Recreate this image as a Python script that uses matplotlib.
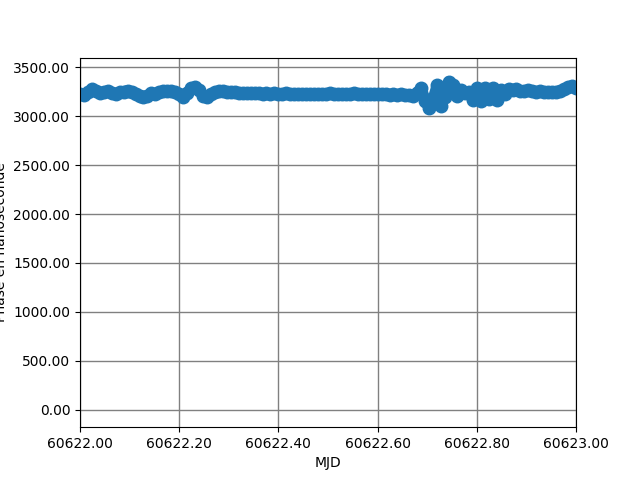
import numpy as np
import matplotlib
matplotlib.use("Agg")
import matplotlib.pyplot as plt
from matplotlib.ticker import FormatStrFormatter

# MJD sampling (one point every 0.008 day)
mjd = 60622.0 + 0.008 * np.arange(126)

# phase values (ns)
phase = [
    3225, 3215, 3245, 3275, 3262, 3240, 3250, 3258, 3240, 3232,
    3245, 3252, 3262, 3248, 3228, 3210, 3198, 3212, 3238, 3232,
    3250, 3258, 3262, 3255, 3250, 3232, 3195, 3235, 3290, 3298,
    3272, 3210, 3198, 3225, 3245, 3255, 3262, 3250, 3245,
    3245, 3238, 3242, 3236, 3240, 3234, 3238, 3232, 3236, 3230, 3235, 3232,
    3228, 3233, 3226, 3230, 3225, 3231, 3227, 3229, 3224, 3230, 3228, 3232,
    3234, 3228, 3232, 3226, 3230, 3229, 3233, 3227, 3231, 3225, 3229, 3226,
    3230, 3224, 3228, 3222, 3226, 3220,
    3225, 3218, 3222, 3210, 3240, 3290, 3160, 3085, 3180, 3315,
    3100, 3200, 3355, 3320, 3210, 3265, 3235, 3245, 3170, 3285,
    3160, 3290, 3175, 3285, 3165, 3270, 3230, 3280, 3265, 3275,
    3262, 3258, 3268, 3260, 3250, 3255, 3248, 3252, 3245, 3250,
    3258, 3275, 3300, 3310, 3285,
]

fig = plt.figure(figsize=(6.4, 4.8), dpi=100)
ax = fig.add_subplot(111)
ax.plot(mjd, phase, '-o', color='#1f77b4', markersize=9, linewidth=8)

ax.set_xlim(60622.0, 60623.0)
ax.set_ylim(-180, 3600)
ax.set_xticks(np.arange(60622.0, 60623.01, 0.2))
ax.set_yticks(np.arange(0, 3501, 500))
ax.xaxis.set_major_formatter(FormatStrFormatter('%.2f'))
ax.yaxis.set_major_formatter(FormatStrFormatter('%.2f'))
ax.grid(True, color='gray', linewidth=1)
ax.set_axisbelow(True)
ax.set_xlabel("MJD")
ax.set_ylabel("Phase en nanoseconde")

fig.savefig("out.png")
